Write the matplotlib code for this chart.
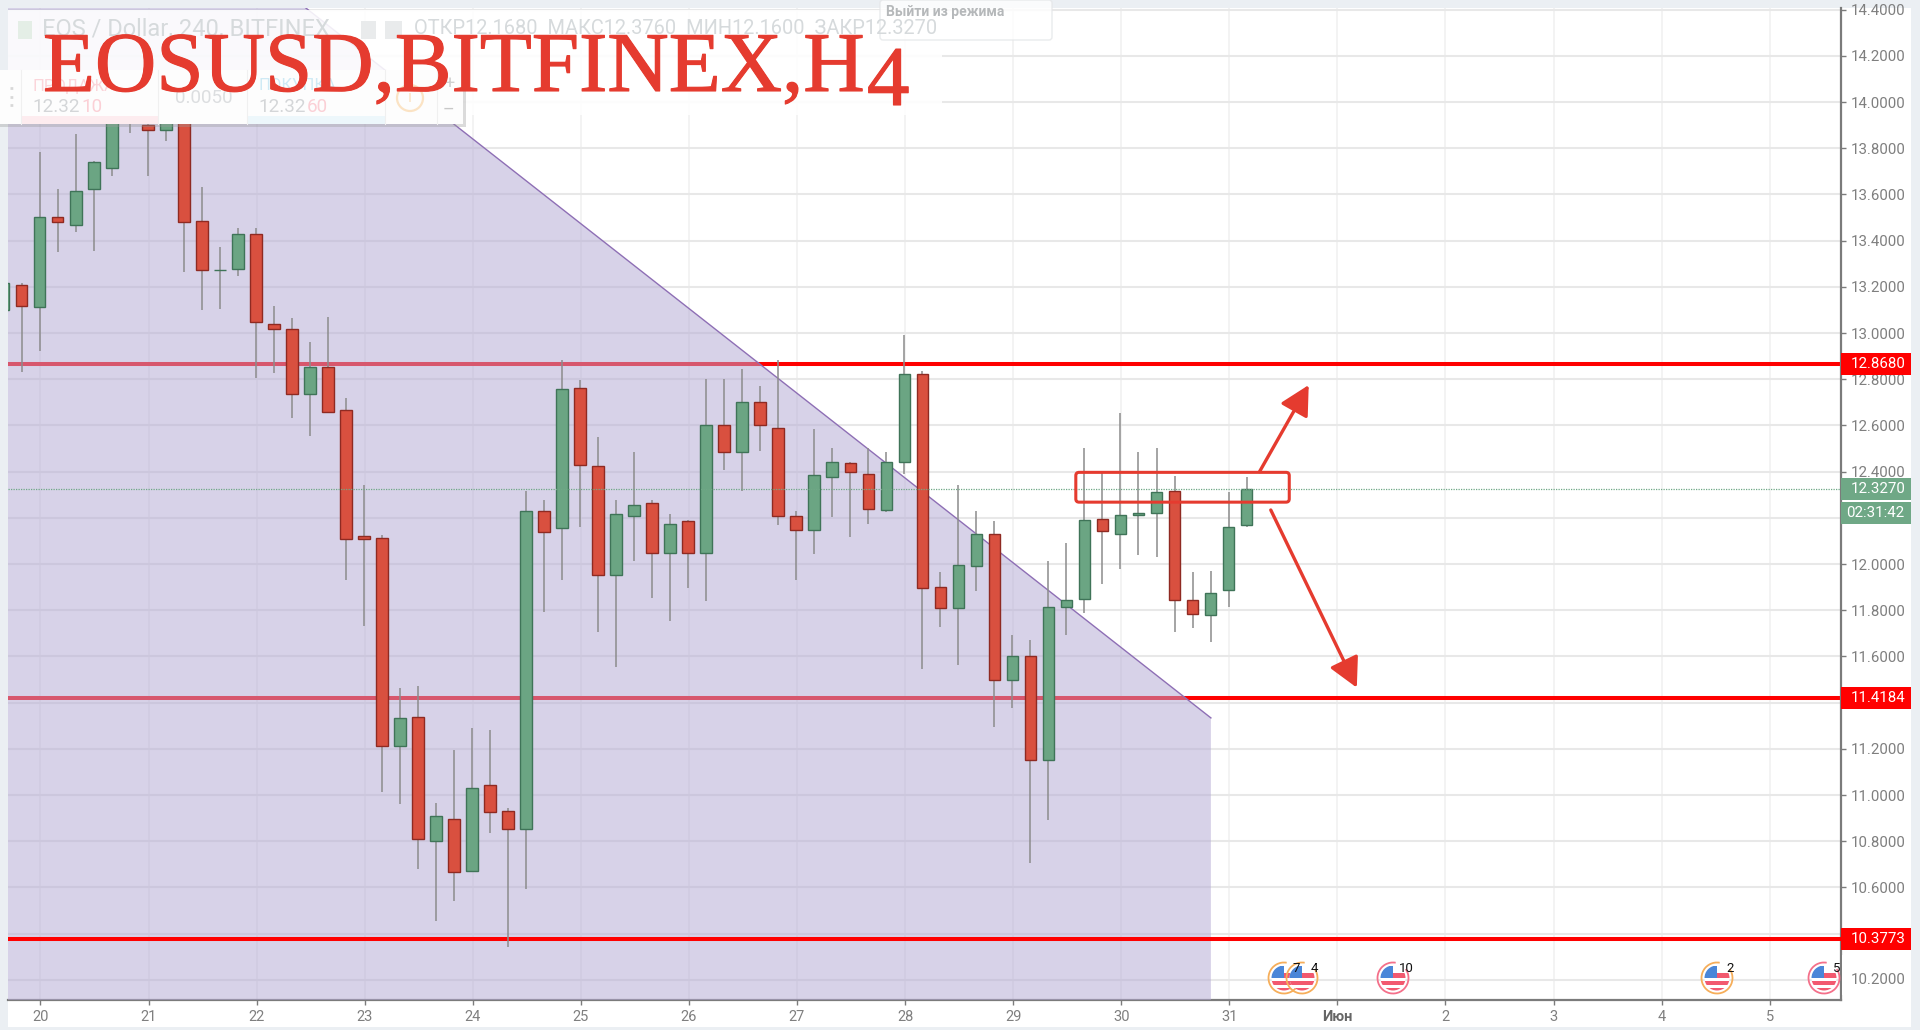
import numpy as np
import matplotlib
matplotlib.use('Agg')
import matplotlib.pyplot as plt
import matplotlib.patheffects as pe
from matplotlib.patches import Rectangle, Polygon, FancyBboxPatch, FancyArrowPatch, Circle, Arc
from matplotlib.transforms import blended_transform_factory

plt.rcParams['font.family'] = ['Roboto', 'DejaVu Sans']

# candles, 4h
opens = [13.100, 13.208, 13.112, 13.501, 13.469, 13.623, 13.713, 14.050, 13.900, 13.879, 14.000, 13.483, 13.271,
         13.278, 13.429, 13.037, 13.019, 12.737, 12.851, 12.667, 12.121, 12.114, 11.214, 11.339, 10.802, 10.898,
         10.671, 11.042, 10.929, 10.854, 12.228, 12.154, 12.763, 12.424, 11.951, 12.206, 12.263, 12.050, 12.185,
         12.046, 12.602, 12.486, 12.703, 12.590, 12.209, 12.147, 12.379, 12.436, 12.392, 12.235, 12.440, 12.821,
         11.899, 11.808, 11.993, 12.131, 11.499, 11.600, 11.154, 11.815, 11.850, 12.196, 12.129, 12.212, 12.219,
         12.316, 11.846, 11.778, 11.886, 12.168]
closes = [13.218, 13.118, 13.501, 13.481, 13.613, 13.739, 13.930, 14.000, 13.879, 13.930, 13.482, 13.273, 13.275,
          13.429, 13.046, 13.016, 12.737, 12.851, 12.659, 12.107, 12.110, 11.214, 11.335, 10.808, 10.911, 10.665,
          11.030, 10.926, 10.854, 12.228, 12.140, 12.756, 12.427, 11.951, 12.215, 12.257, 12.050, 12.173, 12.046,
          12.602, 12.486, 12.703, 12.600, 12.206, 12.147, 12.387, 12.440, 12.397, 12.237, 12.440, 12.821, 11.897,
          11.808, 11.994, 12.131, 11.499, 11.600, 11.154, 11.815, 11.846, 12.190, 12.141, 12.214, 12.222, 12.310,
          11.844, 11.785, 11.876, 12.162, 12.327]
highs = [13.218, 13.215, 13.782, 13.622, 13.860, 13.746, 14.000, 14.100, 14.000, 14.000, 14.050, 13.633, 13.372,
         13.453, 13.453, 13.117, 13.063, 12.960, 13.068, 12.717, 12.341, 12.125, 11.462, 11.472, 10.967, 11.195,
         11.289, 11.281, 10.942, 12.317, 12.277, 12.883, 12.796, 12.548, 12.277, 12.483, 12.277, 12.216, 12.190,
         12.801, 12.801, 12.843, 12.771, 12.883, 12.230, 12.584, 12.501, 12.443, 12.501, 12.483, 12.991, 12.835,
         11.967, 12.342, 12.229, 12.186, 11.693, 11.671, 12.014, 12.092, 12.501, 12.393, 12.652, 12.485, 12.501,
         12.382, 11.967, 11.971, 12.312, 12.376]
lows = [13.100, 12.830, 12.923, 13.352, 13.439, 13.355, 13.681, 13.866, 13.681, 13.830, 13.266, 13.098, 13.104,
        13.247, 12.807, 12.825, 12.634, 12.556, 12.652, 11.931, 11.733, 11.014, 10.961, 10.680, 10.456, 10.543,
        10.671, 10.837, 10.344, 10.592, 11.794, 11.931, 12.162, 11.706, 11.556, 12.014, 11.854, 11.753, 11.895,
        11.841, 12.407, 12.317, 12.491, 12.170, 11.931, 12.045, 12.205, 12.115, 12.173, 12.227, 12.392, 11.544,
        11.729, 11.563, 11.885, 11.296, 11.378, 10.705, 10.890, 11.693, 11.789, 11.913, 11.980, 12.038, 12.032,
        11.704, 11.722, 11.664, 11.812, 12.160]
first_candle_day = 19.66

y_ticks = [10.2, 10.4, 10.6, 10.8, 11.0, 11.2, 11.4, 11.6, 11.8, 12.0, 12.2, 12.4, 12.6, 12.8, 13.0, 13.2, 13.4,
           13.6, 13.8, 14.0, 14.2, 14.4]
x_ticks = [20, 21, 22, 23, 24, 25, 26, 27, 28, 29, 30, 31, 32, 33, 34, 35, 36]
x_labels = ['20', '21', '22', '23', '24', '25', '26', '27', '28', '29', '30', '31', 'Июн', '2', '3', '4', '5']

levels = [12.8680, 11.4184, 10.3773]
last_price = 12.3270
countdown = '02:31:42'

# wedge shading in chart units (day, price)
wedge_x = [22.456, 30.83]
wedge_y = [14.407, 11.334]
zone_x = [29.58, 31.555]
zone_y = [12.268, 12.397]
arrow_up = [(31.28, 12.40), (31.735, 12.775)]
arrow_down = [(31.384, 12.234), (32.18, 11.465)]

# event icons: x pixel, ring colour, number, number x
events = [(1284, '#F6AE5A', '7', 1296), (1302, '#F6AE5A', '4', 1314), (1393, '#F4708A', '10', 1406),
          (1717, '#F6AE5A', '2', 1730), (1824, '#F4708A', '5', 1837)]

W, H = 1920, 1030
RED = '#FF0000'
GREEN = '#6FA886'
DRAW_RED = '#E53B2F'
GREY = '#7B7B7B'
LABEL = '#7F7F7F'


def pixel_axes(fig, zorder):
    a = fig.add_axes([0, 0, 1, 1], zorder=zorder)
    a.set_xlim(0, W)
    a.set_ylim(H, 0)
    a.axis('off')
    a.patch.set_alpha(0)
    return a


fig = plt.figure(figsize=(W / 100, H / 100), dpi=100, facecolor='#EBEFF3')

bg = pixel_axes(fig, -1)
bg.add_patch(Rectangle((8, 8), 1903, 1019, color='white', lw=0))

# main chart
left, right, top, bottom = 8, 1841, 8, 1000
ax = fig.add_axes([left / W, 1 - bottom / H, (right - left) / W, (bottom - top) / H])
ax.patch.set_alpha(0)
x_min, x_max = 19.70, 36.66
y_min, y_max = 10.113, 14.407
ax.set_xlim(x_min, x_max)
ax.set_ylim(y_min, y_max)

ax.set_axisbelow(True)
ax.grid(axis='y', color='#E8E8E8', lw=1.5)
ax.grid(axis='x', color='#F0F0F0', lw=1.1)

for s in ['top', 'left']:
    ax.spines[s].set_visible(False)
for s in ['right', 'bottom']:
    ax.spines[s].set_color(GREY)
    ax.spines[s].set_linewidth(1.6)

ax.yaxis.tick_right()
ax.set_yticks(y_ticks)
ax.set_yticklabels(['%.4f' % v for v in y_ticks])
ax.set_xticks(x_ticks)
ax.set_xticklabels(x_labels)
ax.tick_params(axis='y', length=3.6, width=1, color=GREY, labelcolor=LABEL, labelsize=10.8, pad=3.6)
ax.tick_params(axis='x', length=3.6, width=1, color=GREY, labelcolor=LABEL, labelsize=10.5, pad=3.5)
for lab, txt in zip(ax.get_xticklabels(), x_labels):
    if txt == 'Июн':
        lab.set_fontweight('bold')
        lab.set_color('#666666')

# first two levels sit under the shading, the lowest one over it
ax.axhline(levels[0], color=RED, lw=2.9, zorder=2)
ax.axhline(levels[1], color=RED, lw=2.9, zorder=2)
wedge = [(x_min, wedge_y[0]), (wedge_x[0], wedge_y[0]), (wedge_x[1], wedge_y[1]), (wedge_x[1], y_min), (x_min, y_min)]
ax.add_patch(Polygon(wedge, closed=True, facecolor='#B3A9D3', edgecolor='none', alpha=0.52, zorder=3))
ax.plot(wedge_x, wedge_y, color='#8E6FB5', lw=1.0, zorder=3.2)
ax.axhline(levels[2], color=RED, lw=2.9, zorder=3.5)

days = first_candle_day + np.arange(len(opens)) / 6
o = np.array(opens)
c = np.array(closes)
up = c >= o
ax.vlines(days, lows, highs, color='#8C8C8C', lw=1.1, zorder=4)
ax.bar(days[up], (c - o)[up], bottom=o[up], width=0.107, color='#6BA583', edgecolor='#3F7458', lw=1.0, zorder=5)
ax.bar(days[~up], (c - o)[~up], bottom=o[~up], width=0.107, color='#D9503F', edgecolor='#8F2A22', lw=1.0, zorder=5)

ax.axhline(last_price, color=GREEN, lw=0.9, ls=(0, (1, 1)), zorder=5.5)

# hand drawn zone and arrows
zone = FancyBboxPatch((zone_x[0], zone_y[0]), zone_x[1] - zone_x[0], zone_y[1] - zone_y[0],
                      boxstyle='round,pad=0,rounding_size=0.03', mutation_aspect=0.47,
                      facecolor='none', edgecolor=DRAW_RED, lw=2.2, zorder=6)
ax.add_patch(zone)
for (a, b) in [arrow_up, arrow_down]:
    ax.add_patch(FancyArrowPatch(a, b, arrowstyle='-|>,head_length=18,head_width=9.5', mutation_scale=1,
                                 color=DRAW_RED, lw=2.4, shrinkA=0, shrinkB=0, zorder=6, clip_on=False))

# price tags on the right axis
tag_tr = blended_transform_factory(ax.transAxes, ax.transData)
tag_w = 70 / (right - left)
tag_h = 11 / 231
for lev in levels:
    ax.add_patch(Rectangle((1.0, lev - tag_h), tag_w, 2 * tag_h, transform=tag_tr, color=RED, lw=0,
                           clip_on=False, zorder=10))
    ax.text(1 + 10 / (right - left), lev, '%.4f' % lev, transform=tag_tr, color='white', fontsize=10.8,
            va='center', ha='left', zorder=11)
ax.add_patch(Rectangle((1.0, last_price - tag_h), tag_w, 2 * tag_h, transform=tag_tr, color=GREEN, lw=0,
                       clip_on=False, zorder=10))
ax.text(1 + 10 / (right - left), last_price, '%.4f' % last_price, transform=tag_tr, color='white', fontsize=10.8,
        va='center', ha='left', zorder=11)
t_mid = last_price - 24 / 231
ax.add_patch(Rectangle((1.0, t_mid - tag_h), tag_w, 2 * tag_h, transform=tag_tr, color=GREEN, lw=0,
                       clip_on=False, zorder=10))
ax.text(1 + 5 / (right - left), t_mid, countdown, transform=tag_tr, color='white', fontsize=10.8,
        va='center', ha='left', zorder=11)

# everything that lies on top of the chart, in pixel units
ov = pixel_axes(fig, 5)

for cx, ring, num, num_x in events:
    ov.add_patch(Arc((cx, 978), 31, 31, theta1=-35, theta2=280, color=ring, lw=1.3))
    disc = Circle((cx, 978), 12.5, facecolor='white', edgecolor='none')
    ov.add_patch(disc)
    parts = [Rectangle((cx - 13, 966), 13, 12, color='#4A86D8', lw=0),
             Rectangle((cx, 973), 13, 5, color='#F2596F', lw=0),
             Rectangle((cx - 13, 981), 26, 4, color='#F2596F', lw=0),
             Rectangle((cx - 13, 988), 26, 4, color='#F2596F', lw=0)]
    for p in parts:
        ov.add_patch(p)
        p.set_clip_path(disc)
    ov.text(num_x, 969, num, color='#111111', fontsize=9.5, ha='center', va='center', clip_on=True)
ov.add_patch(Rectangle((1842, 955), 69, 40, color='white', lw=0))
ov.text(1851, 980, '10.2000', color=LABEL, fontsize=10.8, va='center', ha='left')

# faded header of the screenshot
ov.add_patch(Rectangle((8, 10), 934, 105, color='white', alpha=0.88, lw=0))
ov.text(42, 29, 'EOS / Dollar, 240, BITFINEX', color='#D6DADC', fontsize=17, va='center')
ov.add_patch(Rectangle((18, 21), 14, 18, color='#E4EEE6', lw=0))
ov.add_patch(Rectangle((361, 21), 15, 18, color='#E9EBEC', lw=0))
ov.add_patch(Rectangle((385, 21), 17, 18, color='#E9EBEC', lw=0))
ov.text(414, 29, 'ОТКР12.1680  МАКС12.3760  МИН12.1600  ЗАКР12.3270', color='#D6DADC', fontsize=14.4, va='center')
ov.add_patch(FancyBboxPatch((880, 0), 172, 40, boxstyle='round,pad=0,rounding_size=3',
                            facecolor='white', edgecolor='#E4E6E8', lw=1, alpha=0.8))
ov.text(886, 12, 'Выйти из режима', color='#B5B8BA', fontsize=10, fontweight='bold', va='center')

# order panel
ov.add_patch(Rectangle((0, 71), 466, 56, color='#9A9A9A', alpha=0.35, lw=0))
ov.add_patch(Rectangle((0, 70), 463, 54, color='#FDFDFD', lw=0))
ov.add_patch(Rectangle((21, 116), 137, 8, color='#FDECEF', lw=0))
ov.add_patch(Rectangle((247, 116), 138, 8, color='#EDF7FB', lw=0))
for px in [21, 158, 247, 385, 437]:
    ov.plot([px, px], [70, 124], color='#F0F0F0', lw=0.8)
ov.text(32, 86, 'ПРОДАЖА', color='#FBD5DA', fontsize=12, va='center')
ov.text(32, 107, '12.32', color='#D4D6D8', fontsize=13.6, va='center')
ov.text(81, 107, '10', color='#FBD0D6', fontsize=13.6, va='center')
ov.text(204, 98, '0.0050', color='#DCDEE0', fontsize=13.6, va='center', ha='center')
ov.text(258, 86, 'ПОКУПКА', color='#CFEAF5', fontsize=12, va='center')
ov.text(258, 107, '12.32', color='#D4D6D8', fontsize=13.6, va='center')
ov.text(307, 107, '60', color='#FBD0D6', fontsize=13.6, va='center')
ov.add_patch(Circle((410, 98), 13, facecolor='none', edgecolor='#FBE3C4', lw=1.6))
ov.text(410, 98, 'i', color='#FBE3C4', fontsize=12, ha='center', va='center')
ov.text(449, 84, '+', color='#D0D0D0', fontsize=13, ha='center', va='center')
ov.text(449, 110, '–', color='#C8C8C8', fontsize=13, ha='center', va='center')
for gy in [88, 97, 105]:
    ov.plot([10, 13], [gy, gy], color='#D8D8D8', lw=2, ls=(0, (1, 1)))

# big title, the last digit sits lower in the original
title_font = {'family': ['Liberation Serif'], 'fontsize': 61.2, 'color': DRAW_RED, 'va': 'baseline',
              'path_effects': [pe.withStroke(linewidth=0.8, foreground=DRAW_RED)]}
ov.text(43, 91, 'EOSUSD,BITFINEX,H', **title_font)
ov.text(867, 105, '4', **title_font)

fig.savefig('out.png', dpi=100, facecolor=fig.get_facecolor())
